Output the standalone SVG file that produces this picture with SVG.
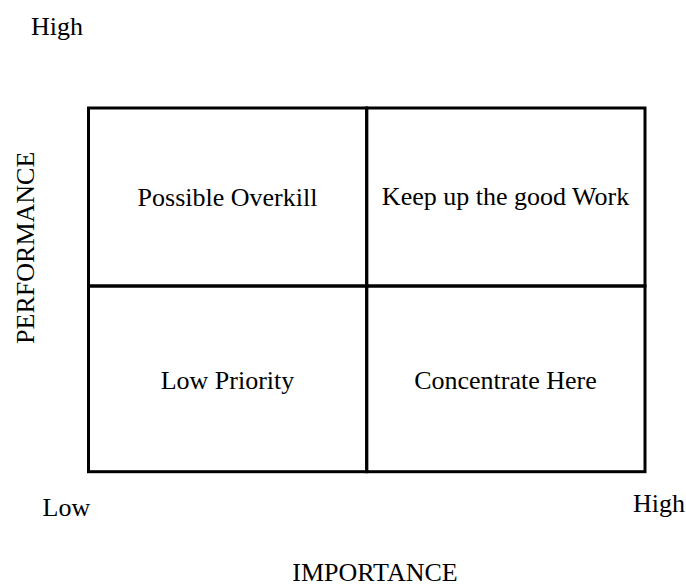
<svg xmlns="http://www.w3.org/2000/svg" width="686" height="584" viewBox="0 0 686 584">
  <style>
    text { font-family: "Liberation Serif", "Times New Roman", serif; font-size: 26px; fill: #000; }
    .cell rect { fill: none; stroke: #000; stroke-width: 3; }
    .mid { text-anchor: middle; }
  </style>
  <rect width="686" height="584" fill="#fff"/>

  <!-- axis labels -->
  <g id="axis-labels">
    <text x="31" y="35">High</text>
    <text class="mid" transform="translate(34.3,247.8) rotate(-90)">PERFORMANCE</text>
    <text x="42.5" y="515.7">Low</text>
    <text x="633" y="511.7">High</text>
    <text class="mid" x="375" y="580.7">IMPORTANCE</text>
  </g>

  <!-- quadrants -->
  <g id="possible-overkill" class="cell">
    <rect x="88.5" y="108" width="278.2" height="178"/>
    <text class="mid" x="227.5" y="206">Possible Overkill</text>
  </g>
  <g id="keep-up-the-good-work" class="cell">
    <rect x="366.7" y="108" width="278.3" height="178"/>
    <text class="mid" x="505.5" y="205">Keep up the good Work</text>
  </g>
  <g id="low-priority" class="cell">
    <rect x="88.5" y="286" width="278.2" height="185.7"/>
    <text class="mid" x="227.5" y="389.3">Low Priority</text>
  </g>
  <g id="concentrate-here" class="cell">
    <rect x="366.7" y="286" width="278.3" height="185.7"/>
    <text class="mid" x="505.5" y="389.3">Concentrate Here</text>
  </g>
</svg>
